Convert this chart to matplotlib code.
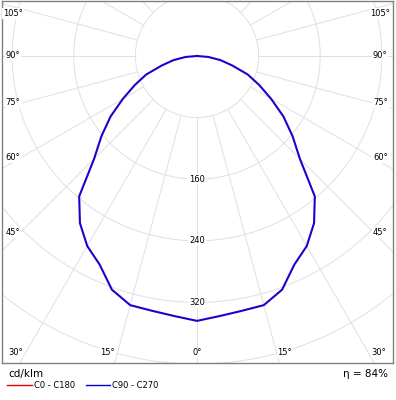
import numpy as np
import matplotlib
matplotlib.use("Agg")
import matplotlib.pyplot as plt
from matplotlib.lines import Line2D

# Luminous intensity distribution, C90 - C270 plane (symmetric), cd/klm
gamma = [0, 5, 10, 15, 20, 25, 30, 35, 40, 45, 50, 55, 60, 65, 70, 75, 80, 85, 90]
c90_c270 = [344, 339, 336, 335, 323, 299, 285, 265, 238, 189, 162, 137, 111, 89, 70, 47, 31, 15, 0]

ring_values = [80, 160, 240, 320, 400, 480]
ring_labels = [160, 240, 320]

side_angles = [105, 90, 75, 60, 45]
side_label_y = [55, 0, -61, -132, -229]
bottom_angles = [30, 15, 0, 15, 30]
bottom_label_x = [-236, -116, 0, 114, 236]

efficiency = 84
grid_col = "#e0e0e0"
curve_col = "#2200cc"

fig = plt.figure(figsize=(3.96, 4.0), dpi=100)
ax = fig.add_axes([2 / 396, 37 / 400, 391 / 396, 362 / 400])
ax.set_xlim(-253.2, 254.5)
ax.set_ylim(-398.7, 71.4)
ax.set_xticks([])
ax.set_yticks([])
for s in ax.spines.values():
    s.set_color("#808080")
    s.set_linewidth(1.0)

# circles
t = np.linspace(0, 2 * np.pi, 721)
for r in ring_values:
    ax.plot(r * np.sin(t), r * np.cos(t), color=grid_col, lw=0.7, zorder=1)

# radial lines every 15 degrees, starting at the first ring
for a in range(0, 360, 15):
    g = np.radians(a)
    ax.plot([80 * np.sin(g), 1000 * np.sin(g)], [-80 * np.cos(g), -1000 * np.cos(g)],
            color=grid_col, lw=0.7, zorder=1)

bbox = dict(facecolor="white", edgecolor="none", pad=0.6)
for v in ring_labels:
    ax.text(0, -v, str(v), ha="center", va="center", fontsize=6, bbox=bbox, zorder=3)

for a, y in zip(side_angles, side_label_y):
    ax.text(-239, y, f"{a}°", ha="center", va="center", fontsize=6, bbox=bbox, zorder=3)
    ax.text(238, y, f"{a}°", ha="center", va="center", fontsize=6, bbox=bbox, zorder=3)
for a, x in zip(bottom_angles, bottom_label_x):
    ax.text(x, -385.5, f"{a}°", ha="center", va="center", fontsize=6, bbox=bbox, zorder=3)

# curve, mirrored for both halves
g = np.radians(gamma)
I = np.array(c90_c270, dtype=float)
xs = np.concatenate([-(I * np.sin(g))[::-1], (I * np.sin(g))[1:]])
ys = np.concatenate([-(I * np.cos(g))[::-1], -(I * np.cos(g))[1:]])
ax.plot(xs, ys, color=curve_col, lw=1.5, zorder=4)

# footer
fig.text(8 / 396, 1 - 374 / 400, "cd/klm", fontsize=7.5, ha="left", va="center")
fig.text(388 / 396, 1 - 374 / 400, f"η = {efficiency}%", fontsize=7.5, ha="right", va="center")
ly = 1 - 385 / 400
fig.add_artist(Line2D([7 / 396, 32 / 396], [ly, ly], color="#e00000", lw=1.0))
fig.text(34 / 396, ly, "C0 - C180", fontsize=6, ha="left", va="center")
fig.add_artist(Line2D([86 / 396, 110 / 396], [ly, ly], color="#0000cc", lw=1.0))
fig.text(112 / 396, ly, "C90 - C270", fontsize=6, ha="left", va="center")

fig.savefig("out.png", dpi=100)
plt.close(fig)
